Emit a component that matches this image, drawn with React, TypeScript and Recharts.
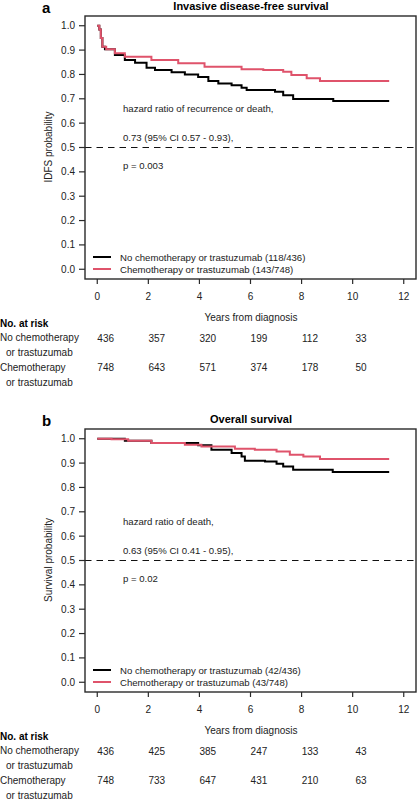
import React from 'react';
import { LineChart, Line, XAxis, YAxis, ReferenceLine } from 'recharts';

const FONT = '"Liberation Sans", Arial, Helvetica, sans-serif';
const RED = '#DF536B';
const INK = '#222';
const FRAME = '#2a2a2a';

const X_TICKS = [0, 2, 4, 6, 8, 10, 12];
const Y_TICKS = [0, 0.1, 0.2, 0.3, 0.4, 0.5, 0.6, 0.7, 0.8, 0.9, 1.0];
const RISK_TIMES = [0, 2, 4, 6, 8, 10];

// panel a: invasive disease-free survival
const IDFS_NO_CHEMO = [
  { t: 0, s: 1.0 }, { t: 0.08, s: 0.985 }, { t: 0.14, s: 0.95 }, { t: 0.2, s: 0.914 },
  { t: 0.3, s: 0.903 }, { t: 0.69, s: 0.88 }, { t: 1.08, s: 0.859 }, { t: 1.48, s: 0.848 },
  { t: 1.93, s: 0.828 }, { t: 2.26, s: 0.818 }, { t: 2.91, s: 0.809 }, { t: 3.43, s: 0.8 },
  { t: 3.95, s: 0.79 }, { t: 4.35, s: 0.773 }, { t: 4.74, s: 0.763 }, { t: 5.26, s: 0.756 },
  { t: 5.65, s: 0.745 }, { t: 5.85, s: 0.736 }, { t: 6.96, s: 0.729 }, { t: 7.28, s: 0.715 },
  { t: 7.67, s: 0.699 }, { t: 9.24, s: 0.691 }, { t: 11.43, s: 0.691 },
];
const IDFS_CHEMO = [
  { t: 0, s: 1.0 }, { t: 0.08, s: 0.985 }, { t: 0.14, s: 0.95 }, { t: 0.2, s: 0.914 },
  { t: 0.35, s: 0.903 }, { t: 0.69, s: 0.887 }, { t: 1.08, s: 0.873 }, { t: 2.12, s: 0.859 },
  { t: 3.17, s: 0.846 }, { t: 4.2, s: 0.832 }, { t: 5.65, s: 0.821 }, { t: 6.5, s: 0.818 },
  { t: 7.28, s: 0.811 }, { t: 7.6, s: 0.798 }, { t: 8.2, s: 0.784 }, { t: 8.72, s: 0.773 },
  { t: 11.43, s: 0.773 },
];
const IDFS_RISK_NO_CHEMO = [436, 357, 320, 199, 112, 33];
const IDFS_RISK_CHEMO = [748, 643, 571, 374, 178, 50];

// panel b: overall survival
const OS_NO_CHEMO = [
  { t: 0, s: 1.0 }, { t: 0.56, s: 1.0 }, { t: 1.08, s: 0.992 }, { t: 2.12, s: 0.982 },
  { t: 3.95, s: 0.973 }, { t: 4.47, s: 0.955 }, { t: 5.26, s: 0.941 }, { t: 5.65, s: 0.927 },
  { t: 5.78, s: 0.91 }, { t: 6.57, s: 0.907 }, { t: 7.02, s: 0.897 }, { t: 7.28, s: 0.886 },
  { t: 7.67, s: 0.873 }, { t: 9.22, s: 0.863 }, { t: 11.43, s: 0.863 },
];
const OS_CHEMO = [
  { t: 0, s: 1.0 }, { t: 0.56, s: 0.998 }, { t: 1.21, s: 0.992 }, { t: 2.12, s: 0.982 },
  { t: 3.43, s: 0.975 }, { t: 4.08, s: 0.968 }, { t: 5.39, s: 0.959 }, { t: 6.17, s: 0.955 },
  { t: 7.02, s: 0.948 }, { t: 7.54, s: 0.934 }, { t: 8.07, s: 0.927 }, { t: 8.72, s: 0.917 },
  { t: 11.43, s: 0.917 },
];
const OS_RISK_NO_CHEMO = [436, 425, 385, 247, 133, 43];
const OS_RISK_CHEMO = [748, 733, 647, 431, 210, 63];

const PANELS = [
  {
    letter: 'a',
    title: 'Invasive disease-free survival',
    yLabel: 'IDFS probability',
    noChemo: IDFS_NO_CHEMO,
    chemo: IDFS_CHEMO,
    noChemoName: 'No chemotherapy or trastuzumab (118/436)',
    chemoName: 'Chemotherapy or trastuzumab (143/748)',
    notes: ['hazard ratio of recurrence or death,', '0.73 (95% CI 0.57 - 0.93),', 'p = 0.003'],
    riskNoChemo: IDFS_RISK_NO_CHEMO,
    riskChemo: IDFS_RISK_CHEMO,
  },
  {
    letter: 'b',
    title: 'Overall survival',
    yLabel: 'Survival probability',
    noChemo: OS_NO_CHEMO,
    chemo: OS_CHEMO,
    noChemoName: 'No chemotherapy or trastuzumab (42/436)',
    chemoName: 'Chemotherapy or trastuzumab (43/748)',
    notes: ['hazard ratio of death,', '0.63 (95% CI 0.41 - 0.95),', 'p = 0.02'],
    riskNoChemo: OS_RISK_NO_CHEMO,
    riskChemo: OS_RISK_CHEMO,
  },
];

const W = 418;
const H = 400;
const MARGIN = { top: 16, right: 2, bottom: 91, left: 25 };
const Y_AXIS_W = 60;
const X_AXIS_H = 30;
const X_DOMAIN: [number, number] = [-0.48, 12.48];
const Y_DOMAIN: [number, number] = [-0.04, 1.04];
const RISK_SHIFT = 0.33;

// plot rectangle, same as the one Recharts lays out from the margins above
const PLOT = {
  left: MARGIN.left + Y_AXIS_W,
  top: MARGIN.top,
  width: W - MARGIN.left - Y_AXIS_W - MARGIN.right,
  height: H - MARGIN.top - MARGIN.bottom - X_AXIS_H,
};
const px = (t: number) => PLOT.left + ((t - X_DOMAIN[0]) / (X_DOMAIN[1] - X_DOMAIN[0])) * PLOT.width;
const py = (v: number) => PLOT.top + ((Y_DOMAIN[1] - v) / (Y_DOMAIN[1] - Y_DOMAIN[0])) * PLOT.height;

const tickStyle = { fontSize: 10, fill: INK, fontFamily: FONT };

function Panel({ p }: { p: (typeof PANELS)[number] }) {
  const bottom = PLOT.top + PLOT.height;
  return (
    <div style={{ position: 'relative', width: W, height: H }}>
      <LineChart width={W} height={H} margin={MARGIN}>
        <XAxis
          type="number" dataKey="t" domain={X_DOMAIN} allowDataOverflow ticks={X_TICKS} interval={0}
          axisLine={false} tickLine={false} tickSize={5} tickMargin={9} height={X_AXIS_H} tick={tickStyle}
        />
        <YAxis
          type="number" domain={Y_DOMAIN} allowDataOverflow ticks={Y_TICKS} interval={0} width={Y_AXIS_W}
          tickFormatter={(v: number) => v.toFixed(1)}
          axisLine={false} tickLine={false} tickSize={6} tickMargin={4} tick={tickStyle}
        />
        <ReferenceLine y={0.5} stroke="#111" strokeWidth={1.2} strokeDasharray="6.5 5" />
        <Line data={p.noChemo} dataKey="s" name={p.noChemoName} type="stepAfter" stroke="#000"
          strokeWidth={2} dot={false} isAnimationActive={false} />
        <Line data={p.chemo} dataKey="s" name={p.chemoName} type="stepAfter" stroke={RED}
          strokeWidth={2} dot={false} isAnimationActive={false} />
      </LineChart>
      <svg width={W} height={H} style={{ position: 'absolute', left: 0, top: 0, pointerEvents: 'none' }}
        fontFamily={FONT} fill={INK}>
        {/* box and tick marks */}
        <rect x={PLOT.left} y={PLOT.top} width={PLOT.width} height={PLOT.height}
          fill="none" stroke={FRAME} strokeWidth={1.4} />
        {Y_TICKS.map((v) => (
          <line key={`y${v}`} x1={PLOT.left - 6} x2={PLOT.left} y1={py(v)} y2={py(v)} stroke={FRAME} strokeWidth={1.2} />
        ))}
        {X_TICKS.map((t) => (
          <line key={`x${t}`} x1={px(t)} x2={px(t)} y1={bottom} y2={bottom + 5} stroke={FRAME} strokeWidth={1.2} />
        ))}
        <text x={42} y={13} fontSize={15} fontWeight="bold" fill="#000">{p.letter}</text>
        <text x={251} y={10} fontSize={11} fontWeight="bold" textAnchor="middle" fill="#000">{p.title}</text>
        <text x={0} y={0} fontSize={10} textAnchor="middle" transform="translate(52,147) rotate(-90)">{p.yLabel}</text>
        {p.notes.map((s, i) => (
          <text key={s} x={123} y={112 + i * 28.5} fontSize={9.6}>{s}</text>
        ))}
        {/* legend */}
        <line x1={93} x2={111} y1={257} y2={257} stroke="#000" strokeWidth={2} />
        <line x1={93} x2={111} y1={269} y2={269} stroke={RED} strokeWidth={2} />
        <text x={120} y={260.5} fontSize={9.6}>{p.noChemoName}</text>
        <text x={120} y={272.5} fontSize={9.6}>{p.chemoName}</text>
        <text x={251} y={321} fontSize={10} textAnchor="middle">Years from diagnosis</text>
        {/* number at risk */}
        <text x={0} y={327} fontSize={10} fontWeight="bold" fill="#000">No. at risk</text>
        <text x={0} y={341} fontSize={10}>No chemotherapy</text>
        <text x={6} y={356} fontSize={10}>or trastuzumab</text>
        <text x={0} y={371} fontSize={10}>Chemotherapy</text>
        <text x={6} y={386} fontSize={10}>or trastuzumab</text>
        {RISK_TIMES.map((t, i) => (
          <g key={`r${t}`}>
            <text x={px(t + RISK_SHIFT)} y={341.5} fontSize={10} textAnchor="middle">{p.riskNoChemo[i]}</text>
            <text x={px(t + RISK_SHIFT)} y={370.5} fontSize={10} textAnchor="middle">{p.riskChemo[i]}</text>
          </g>
        ))}
      </svg>
    </div>
  );
}

export default function App() {
  return (
    <div style={{ position: 'absolute', left: 0, top: 0, width: W, height: 800, background: '#fff' }}>
      <div style={{ position: 'absolute', left: 0, top: 0 }}><Panel p={PANELS[0]} /></div>
      <div style={{ position: 'absolute', left: 0, top: 413 }}><Panel p={PANELS[1]} /></div>
    </div>
  );
}
